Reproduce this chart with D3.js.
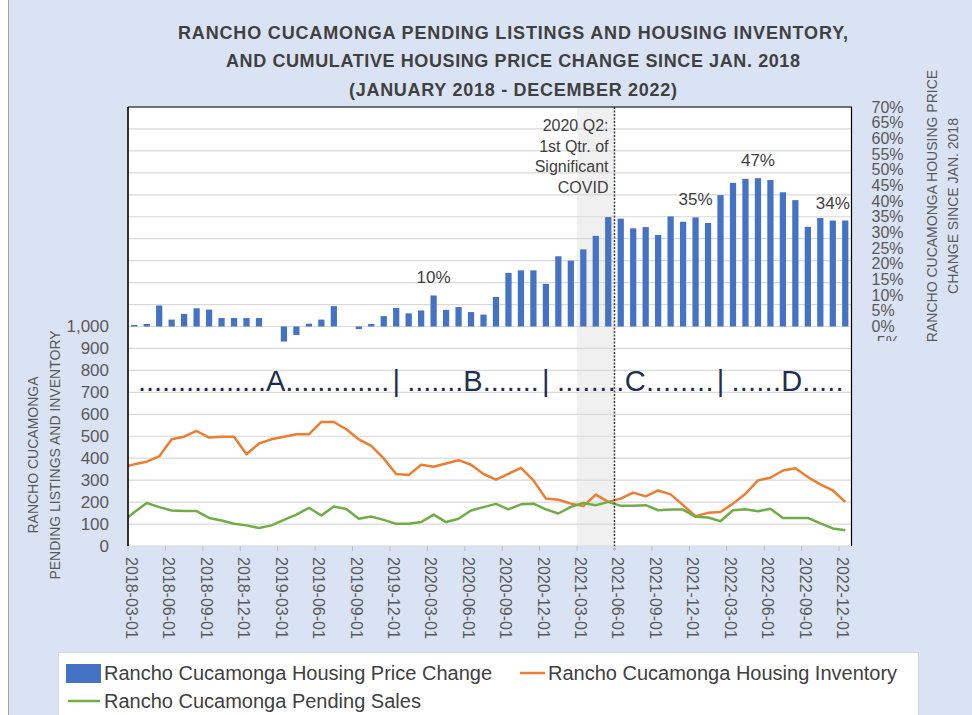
<!DOCTYPE html>
<html>
<head>
<meta charset="utf-8">
<script src="https://cdn.jsdelivr.net/npm/d3@7"></script>
<style>
  body { margin: 0; background: #fff; }
  svg { display: block; font-family: "Liberation Sans", Arial, sans-serif; }
</style>
</head>
<body>
<svg width="972" height="715"></svg>
<script>
// ---- data ----
var titleLines = ["RANCHO CUCAMONGA PENDING LISTINGS AND HOUSING INVENTORY,",
                  "AND CUMULATIVE HOUSING PRICE CHANGE SINCE JAN. 2018",
                  "(JANUARY 2018 - DECEMBER 2022)"];

// cumulative price change, %, Mar 2018 .. Dec 2022
var priceChange = [0.5, 0.8, 6.7, 2.2, 4.0, 5.8, 5.4, 2.7, 2.7, 2.7,
                   2.7, 0, -4.8, -2.7, 0.9, 2.2, 6.5, 0, -0.8, 0.8,
                   3.3, 5.9, 4.2, 5.1, 9.9, 5.3, 6.2, 4.6, 3.8, 9.4,
                   17.1, 17.9, 17.9, 13.6, 22.4, 21.0, 24.6, 28.9, 34.9, 34.4,
                   31.3, 31.7, 29.2, 35.1, 33.4, 34.8, 33.0, 41.9, 45.8, 47.1,
                   47.3, 46.7, 42.8, 40.3, 31.8, 34.6, 33.8, 33.8];

// housing inventory, Feb 2018 .. Dec 2022
var inventory = [358,
                 372, 384, 408, 486, 498, 524, 494, 498, 498, 418,
                 467, 486, 498, 509, 509, 565, 565, 532, 486, 456,
                 399, 328, 323, 370, 361, 376, 391, 370, 328, 302,
                 329, 356, 299, 216, 211, 193, 182, 234, 201, 216,
                 243, 226, 253, 235, 186, 136, 151, 155, 193, 238,
                 299, 311, 344, 354, 314, 281, 253, 201];

// pending sales, Feb 2018 .. Dec 2022
var pending = [108,
               154, 196, 177, 162, 159, 159, 128, 116, 101, 94,
               82, 94, 119, 143, 174, 139, 180, 169, 124, 134,
               119, 101, 101, 109, 143, 109, 124, 162, 177, 192,
               167, 190, 193, 167, 148, 178, 196, 186, 201, 183,
               183, 186, 163, 166, 166, 133, 130, 113, 163, 167,
               158, 170, 128, 128, 128, 103, 80, 72];

var leftTicks  = [0, 100, 200, 300, 400, 500, 600, 700, 800, 900, 1000];
var rightTicks = [-5, 0, 5, 10, 15, 20, 25, 30, 35, 40, 45, 50, 55, 60, 65, 70];
var labeledMonths = ["2020-03-01", "2021-12-01", "2022-05-01", "2022-11-01"];

var covidShade = ["2021-03-01", "2021-05-01"];
var covidLine  = "2021-06-01";
var covidNote  = ["2020 Q2:", "1st Qtr. of", "Significant", "COVID"];

var sectionText    = ["................A.............", ".......B.......", "........C........", "......D....."];
var separatorMonths = ["2019-12-01", "2020-12-01", "2022-02-01"];

var seriesNames = ["Rancho Cucamonga Housing Price Change",
                   "Rancho Cucamonga Housing Inventory",
                   "Rancho Cucamonga Pending Sales"];

// ---- layout ----
var W = 972, H = 715;
var L = 128, R = 851.5, T = 107, B = 546;
var fmtDay = d3.timeFormat("%Y-%m-%d");

var lineMonths = d3.timeMonth.range(new Date(2018, 1, 1), new Date(2023, 0, 1)).map(fmtDay);
var barMonths  = lineMonths.slice(1);

var step = (R - L) / barMonths.length;
var x = d3.scaleBand().domain(lineMonths).range([L - step, R]);
var yL = d3.scaleLinear().domain([0, 2000]).range([B, T]);
var yR = d3.scaleLinear().domain([-70, 70]).range([B, T]);

var svg = d3.select("svg");

// background
svg.append("rect").attr("x", 8.5).attr("y", -1).attr("width", W).attr("height", H + 2)
    .attr("fill", "#dae3f3").attr("stroke", "#a6a6a6");

var defs = svg.append("defs");
defs.append("clipPath").attr("id", "plotclip")
    .append("rect").attr("x", L).attr("y", T).attr("width", R - L).attr("height", B - T);
// right labels are cut just under the 0% line, as in the original
defs.append("clipPath").attr("id", "rclip")
    .append("rect").attr("x", 0).attr("y", 0).attr("width", 100).attr("height", 341);

// title
svg.append("g").selectAll("text").data(titleLines).enter().append("text")
    .attr("x", 513).attr("y", (d, i) => 39 + i * 28.3)
    .attr("text-anchor", "middle").attr("font-weight", "bold").attr("font-size", 18)
    .attr("fill", "#404040")
    .attr("textLength", (d, i) => [670, 574, 328][i]).attr("lengthAdjust", "spacing")
    .text(d => d);

// plot area
svg.append("rect").attr("x", L).attr("y", T).attr("width", R - L).attr("height", B - T).attr("fill", "#fff");

// covid shade
svg.append("rect")
    .attr("x", x(covidShade[0])).attr("y", T)
    .attr("width", x(covidShade[1]) + step - x(covidShade[0])).attr("height", B - T)
    .attr("fill", "#f0f0f0");

// gridlines
svg.append("g").selectAll("line").data(d3.range(0, 2001, 100)).enter().append("line")
    .attr("x1", L).attr("x2", R).attr("y1", d => yL(d)).attr("y2", d => yL(d))
    .attr("stroke", "#d9d9d9").attr("stroke-width", 1.2);

// bars
svg.append("g").selectAll("rect").data(priceChange).enter().append("rect")
    .attr("x", (d, i) => x(barMonths[i]) + step * 0.25)
    .attr("width", step * 0.5)
    .attr("y", d => yR(Math.max(0, d)))
    .attr("height", d => Math.abs(yR(d) - yR(0)))
    .attr("fill", "#4472c4");

// bar data labels
svg.append("g").selectAll("text").data(labeledMonths).enter().append("text")
    .attr("x", d => x(d) + step / 2)
    .attr("y", d => yR(priceChange[barMonths.indexOf(d)]) - 12)
    .attr("text-anchor", "middle").attr("font-size", 17).attr("fill", "#404040")
    .text(d => Math.round(priceChange[barMonths.indexOf(d)]) + "%");

// lines
var lineMaker = d3.line().x((d, i) => x(lineMonths[i]) + step / 2).y(d => yL(d));
var lines = svg.append("g").attr("clip-path", "url(#plotclip)");
lines.append("path").attr("d", lineMaker(inventory))
    .attr("fill", "none").attr("stroke", "#ed7d31").attr("stroke-width", 2.5).attr("stroke-linejoin", "round");
lines.append("path").attr("d", lineMaker(pending))
    .attr("fill", "none").attr("stroke", "#70ad47").attr("stroke-width", 2.5).attr("stroke-linejoin", "round");

// covid marker
var cx = x(covidLine);
svg.append("line").attr("x1", cx).attr("x2", cx).attr("y1", T).attr("y2", B + 5)
    .attr("stroke", "#404040").attr("stroke-width", 1.5).attr("stroke-dasharray", "2,1.5");
svg.append("g").selectAll("text").data(covidNote).enter().append("text")
    .attr("x", cx - 6).attr("y", (d, i) => 131 + i * 20.7)
    .attr("text-anchor", "end").attr("font-size", 16).attr("fill", "#404040")
    .text(d => d);

// period sections
var sepX = separatorMonths.map(m => x(m) + step / 2);
var segStart = [L + 10].concat(sepX.map(s => s + 11));
var segEnd = sepX.map(s => s - 7).concat([R - 8]);
var secG = svg.append("g").attr("font-size", 29).attr("fill", "#1f2d4f");
secG.selectAll("text.seg").data(sectionText).enter().append("text").attr("class", "seg")
    .attr("x", (d, i) => segStart[i]).attr("y", 391)
    .attr("textLength", (d, i) => segEnd[i] - segStart[i]).attr("lengthAdjust", "spacing")
    .text(d => d);
secG.selectAll("text.sep").data(sepX).enter().append("text").attr("class", "sep")
    .attr("x", d => d).attr("y", 391).attr("text-anchor", "middle").text("|");

// frame
svg.append("path").attr("d", "M" + L + "," + T + "H" + R + "V" + B)
    .attr("fill", "none").attr("stroke", "#000").attr("stroke-width", 1.2);
svg.append("line").attr("x1", L).attr("x2", L).attr("y1", T).attr("y2", B)
    .attr("stroke", "#000").attr("stroke-width", 1.6);

// left axis
var la = svg.append("g").attr("transform", "translate(" + L + ",0)")
    .call(d3.axisLeft(yL).tickValues(leftTicks).tickFormat(d3.format(",")).tickSize(0).tickPadding(19));
la.select(".domain").remove();
la.selectAll("text").attr("font-size", 17).attr("fill", "#595959").attr("font-family", null);

// right axis
var ra = svg.append("g").attr("transform", "translate(" + R + ",0)").attr("clip-path", "url(#rclip)")
    .call(d3.axisRight(yR).tickValues(rightTicks).tickFormat(d => d + "%").tickSize(0).tickPadding(20));
ra.select(".domain").remove();
ra.selectAll("text").attr("font-size", 16).attr("fill", "#595959").attr("font-family", null);

// x axis
var xTicks = barMonths.filter((d, i) => i % 3 === 0);
var xa = svg.append("g");
xa.selectAll("line").data(xTicks).enter().append("line")
    .attr("x1", d => x(d)).attr("x2", d => x(d)).attr("y1", B).attr("y2", B + 5)
    .attr("stroke", "#bfbfbf");
xa.selectAll("text").data(xTicks).enter().append("text")
    .attr("transform", d => "translate(" + (x(d) + 3.5) + "," + 557 + ") rotate(90)")
    .attr("dominant-baseline", "central").attr("font-size", 16).attr("fill", "#595959")
    .text(d => d);

// axis titles
var lt = svg.append("text").attr("transform", "translate(0,455) rotate(-90)")
    .attr("text-anchor", "middle").attr("font-size", 14).attr("fill", "#595959");
lt.append("tspan").attr("x", 0).attr("y", 38).text("RANCHO CUCAMONGA");
lt.append("tspan").attr("x", 0).attr("y", 60).text("PENDING LISTINGS AND INVENTORY");
var rt = svg.append("text").attr("transform", "translate(0,206) rotate(-90)")
    .attr("text-anchor", "middle").attr("font-size", 14).attr("fill", "#595959");
rt.append("tspan").attr("x", 0).attr("y", 937).text("RANCHO CUCAMONGA HOUSING PRICE");
rt.append("tspan").attr("x", 0).attr("y", 958).text("CHANGE SINCE JAN. 2018");

// legend
var lg = svg.append("g");
lg.append("rect").attr("x", 58.5).attr("y", 652.5).attr("width", 860).attr("height", 70)
    .attr("fill", "#fff").attr("stroke", "#d9d9d9");
lg.append("rect").attr("x", 66).attr("y", 664).attr("width", 35).attr("height", 19).attr("fill", "#4472c4");
lg.append("line").attr("x1", 520).attr("x2", 545).attr("y1", 673).attr("y2", 673)
    .attr("stroke", "#ed7d31").attr("stroke-width", 2.5);
lg.append("line").attr("x1", 68).attr("x2", 100).attr("y1", 701).attr("y2", 701)
    .attr("stroke", "#70ad47").attr("stroke-width", 2.5);
lg.selectAll("text").data(seriesNames).enter().append("text")
    .attr("x", (d, i) => [104, 548, 104][i]).attr("y", (d, i) => [680, 680, 708][i])
    .attr("font-size", 20).attr("fill", "#404040").text(d => d);
</script>
</body>
</html>
